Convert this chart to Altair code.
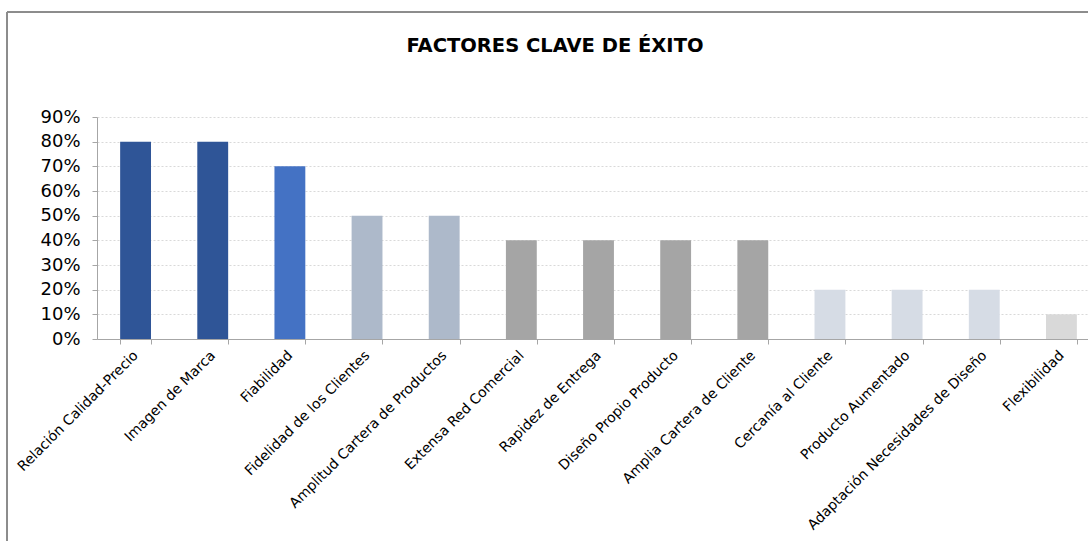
import altair as alt
import pandas as pd

categories = [
    "Relación Calidad-Precio", "Imagen de Marca", "Fiabilidad",
    "Fidelidad de los Clientes", "Amplitud Cartera de Productos",
    "Extensa Red Comercial", "Rapidez de Entrega", "Diseño Propio Producto",
    "Amplia Cartera de Cliente", "Cercanía al Cliente", "Producto Aumentado",
    "Adaptación Necesidades de Diseño", "Flexibilidad",
]
values = [0.80, 0.80, 0.70, 0.50, 0.50, 0.40, 0.40, 0.40, 0.40, 0.20, 0.20, 0.20, 0.10]
colors = ["#2F5597", "#2F5597", "#4472C4", "#ADB9CA", "#ADB9CA", "#A5A5A5",
          "#A5A5A5", "#A5A5A5", "#A5A5A5", "#D6DCE5", "#D6DCE5", "#D6DCE5", "#D9D9D9"]
y_ticks = [0, 0.1, 0.2, 0.3, 0.4, 0.5, 0.6, 0.7, 0.8, 0.9]
title_text = ["FACTORES CLAVE DE ÉXITO"]

df = pd.DataFrame({"cat": categories, "val": values, "col": colors})

FONT = "DejaVu Sans"

bars = alt.Chart(df).mark_bar().encode(
    x=alt.X("cat:N", sort=categories, title=None,
            scale=alt.Scale(range=[0, 1003], paddingInner=0.6, paddingOuter=0.3),
            axis=alt.Axis(labelAngle=-45, labelAlign="right", labelBaseline="middle",
                          labelFont=FONT, labelFontSize=14, labelColor="#000000",
                          labelPadding=9, domainColor="#A6A6A6", tickColor="#A6A6A6",
                          tickSize=5, tickBand="extent", labelLimit=400)),
    y=alt.Y("val:Q", title=None,
            scale=alt.Scale(domain=[0, 0.9], nice=False),
            axis=alt.Axis(values=y_ticks, format=".0%", labelFont=FONT, labelFontSize=18,
                          labelColor="#000000", domainColor="#A6A6A6", tickColor="#A6A6A6",
                          tickSize=5, labelPadding=12, gridColor="#D9D9D9", gridDash=[2, 2])),
    color=alt.Color("col:N", scale=None, legend=None),
)

title = alt.Chart(pd.DataFrame({"t": title_text})).mark_text(
    font=FONT, fontSize=19.5, fontWeight="bold", color="#000000",
    align="center", baseline="middle").encode(
    text="t:N", x=alt.value(458), y=alt.value(-71))

border_left = alt.Chart(df).mark_rule(color="#8C8C8C", strokeWidth=1).encode(
    x=alt.value(-90), y=alt.value(-105), y2=alt.value(430))
border_top = alt.Chart(df).mark_rule(color="#8C8C8C", strokeWidth=1).encode(
    x=alt.value(-90), x2=alt.value(1000), y=alt.value(-105))

chart = alt.layer(bars, title, border_left, border_top).properties(
    width=990, height=222,
    autosize=alt.AutoSizeParams(type="none"),
    padding={"left": 97, "top": 117, "right": 1, "bottom": 202},
).configure_view(stroke=None)

chart.save("out.html", embed_options={"renderer": "svg", "actions": False})
